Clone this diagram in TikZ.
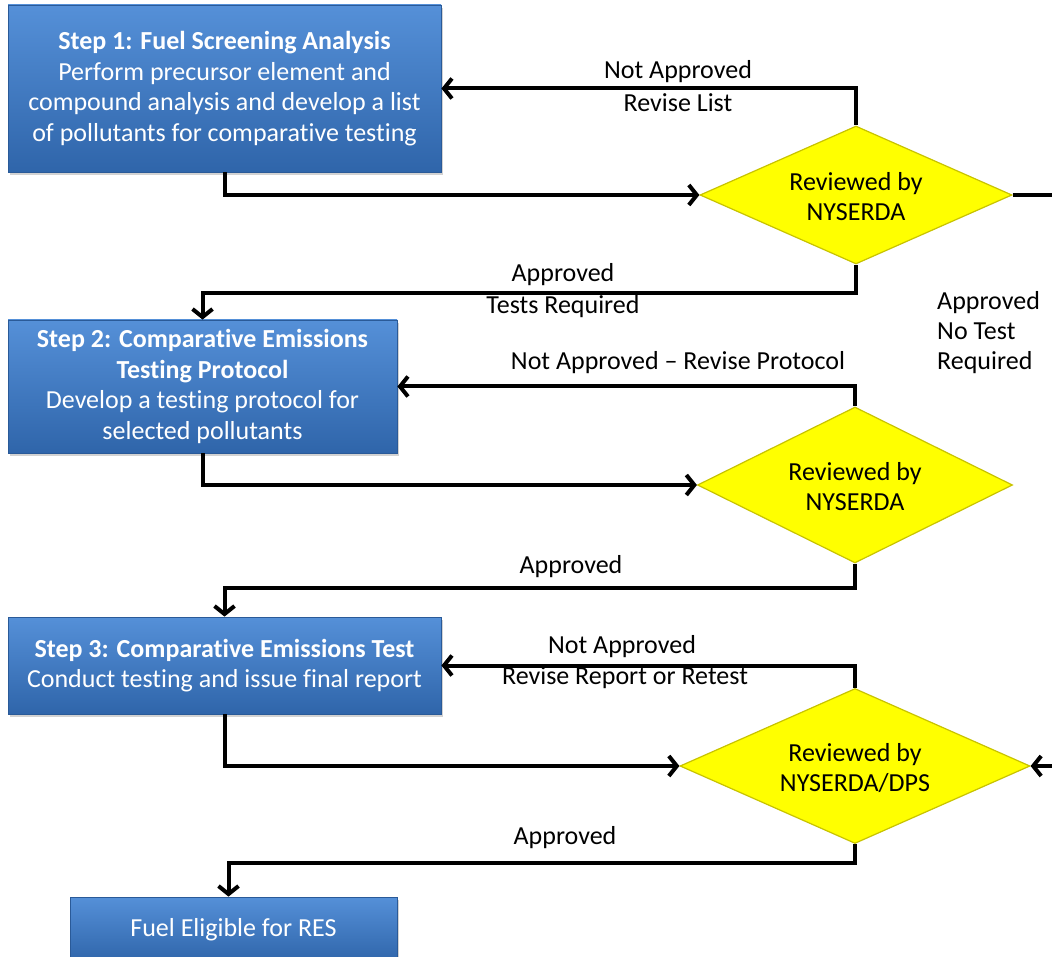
\documentclass[tikz,border=0pt]{standalone}
\usepackage{fontspec}
\setmainfont{Carlito}[Ligatures=CommonOff]
\usetikzlibrary{arrows.meta,shapes.geometric,shadows}
\definecolor{boxtop}{HTML}{5590D8}
\definecolor{boxbot}{HTML}{2F65AA}
\definecolor{boxline}{HTML}{2A5A98}
\definecolor{dfill}{HTML}{FFFF00}
\definecolor{dline}{HTML}{C8C300}
\begin{document}
\begin{tikzpicture}[x=1pt,y=-1pt,
  stepbox/.style={rectangle, draw=boxline, line width=0.8pt, top color=boxtop, bottom color=boxbot,
    text=white, align=center, inner sep=0pt, font=\fontsize{26}{30.5}\selectfont,
    drop shadow={shadow xshift=2pt,shadow yshift=-3pt,opacity=0.35}},
  decision/.style={diamond, draw=dline, fill=dfill, line width=1.2pt, inner sep=0pt},
  dtext/.style={align=center, font=\fontsize{26}{30}\selectfont, inner sep=0pt},
  lbl/.style={font=\fontsize{26}{30}\selectfont, inner sep=0pt, align=center},
  conn/.style={line width=4pt, -{Straight Barb[length=8pt,width=20pt]}}]
\clip (0,0) rectangle (1052,957);
\fill[white] (0,0) rectangle (1052,957);

% boxes
\node[stepbox, minimum width=433pt, minimum height=167pt] (b1) at (224.5,88.5)
  {\textbf{Step 1: Fuel Screening Analysis}\\Perform precursor element and\\compound analysis and develop a list\\of pollutants for comparative testing};
\node[stepbox, minimum width=389pt, minimum height=133pt] (b2) at (202.5,386.5)
  {\textbf{Step 2: Comparative Emissions}\\\textbf{Testing Protocol}\\Develop a testing protocol for\\selected pollutants};
\node[stepbox, minimum width=433pt, minimum height=97pt] (b3) at (224.5,665.5)
  {\textbf{Step 3: Comparative Emissions Test}\\Conduct testing and issue final report};
\node[stepbox, minimum width=327pt, minimum height=65pt] (b4) at (233.5,929.5)
  {Fuel Eligible for RES};

% decisions
\node[decision, minimum width=312pt, minimum height=138pt] (d1) at (856,195) {};
\node[dtext] (t1) at (856,197) {Reviewed by\\NYSERDA};
\node[decision, minimum width=315pt, minimum height=156pt] (d2) at (855,485) {};
\node[dtext] (t2) at (855,487) {Reviewed by\\NYSERDA};
\node[decision, minimum width=350pt, minimum height=155pt] (d3) at (855,766) {};
\node[dtext] (t3) at (855,768) {Reviewed by\\NYSERDA/DPS};

% connectors
\coordinate (rt) at (1075,195);
\draw[conn] (b1.south) |- (d1.west);
\draw[conn] (d1.north) |- (b1.east);
\draw[conn] (d1.south) -- ++(0,28) -| (b2.north);
\draw[conn] (d1.east) -- (rt) |- (d3.east);
\draw[conn] (d2.north) |- (b2.east);
\draw[conn] (b2.south) |- (d2.west);
\draw[conn] (d2.south) -- ++(0,24) -| (b3.north);
\draw[conn] (d3.north) |- (b3.east);
\draw[conn] (b3.south) |- (d3.west);
\draw[conn] (d3.south) -- ++(0,19) -| ([xshift=-5pt]b4.north);

% labels
\node[lbl] (l1a) at (678,72) {Not Approved};
\node[lbl] (l1b) at (678,103) {Revise List};
\node[lbl] (l2a) at (563,275) {Approved};
\node[lbl] (l2b) at (563,307) {Tests Required};
\node[lbl, align=left, anchor=west] (l3) at (937,333) {Approved\\No Test\\Required};
\node[lbl] (l4) at (678,363) {Not Approved -- Revise Protocol};
\node[lbl] (l5) at (571,567) {Approved};
\node[lbl] (l6a) at (622,647) {Not Approved};
\node[lbl] (l6b) at (625,678) {Revise Report or Retest};
\node[lbl] (l7) at (565,838) {Approved};
\end{tikzpicture}
\end{document}
